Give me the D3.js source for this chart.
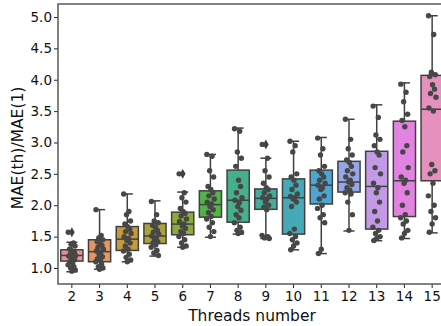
<!DOCTYPE html>
<html>
<head>
<meta charset="utf-8">
<script src="https://cdn.jsdelivr.net/npm/d3@7"></script>
<style>
  body { margin: 0; background: #fff; }
  svg { display: block; font-family: "DejaVu Sans", sans-serif; }
</style>
</head>
<body>
<div id="chart"></div>
<script>
// threads used on the x axis
const threads = [2, 3, 4, 5, 6, 7, 8, 9, 10, 11, 12, 13, 14, 15];

const boxColors = ["#e3929c", "#e39762", "#c59a3c", "#a9a33b", "#8dab3b", "#52b448", "#45b08b",
    "#44ad9f", "#45aab6", "#4ba7d2", "#97a6e8", "#c49ae6", "#e283e2", "#e690be"];

// box stats: [q1, median, q3, lower whisker, upper whisker]
const boxStats = [
    [1.11, 1.20, 1.29, 0.94, 1.41],
    [1.10, 1.26, 1.45, 0.98, 1.93],
    [1.28, 1.46, 1.66, 1.10, 2.18],
    [1.39, 1.51, 1.71, 1.19, 2.07],
    [1.53, 1.70, 1.89, 1.33, 2.21],
    [1.81, 2.01, 2.23, 1.49, 2.81],
    [1.73, 2.08, 2.56, 1.54, 3.23],
    [1.935, 2.11, 2.26, 1.47, 2.75],
    [1.54, 2.12, 2.42, 1.29, 3.02],
    [2.02, 2.32, 2.56, 1.23, 3.08],
    [2.21, 2.37, 2.70, 1.59, 3.37],
    [1.62, 2.30, 2.86, 1.435, 3.60],
    [1.82, 2.39, 3.34, 1.47, 3.95],
    [2.39, 3.53, 4.07, 1.56, 5.02]
];

// outliers beyond the whiskers
const fliers = [[1.57], [], [], [], [2.50], [], [], [2.97], [], [], [], [], [], []];

// individual runs (MAE(th)/MAE(1))
const runs = [
    [1.57, 1.40, 1.38, 1.35, 1.30, 1.27, 1.25, 1.22, 1.20, 1.19, 1.17, 1.15, 1.13, 1.10, 1.08, 1.05, 1.02, 1.00, 0.97, 0.95],
    [1.93, 1.52, 1.48, 1.45, 1.42, 1.40, 1.36, 1.33, 1.30, 1.27, 1.25, 1.22, 1.18, 1.15, 1.12, 1.10, 1.06, 1.02, 1.00, 0.98],
    [2.18, 1.90, 1.85, 1.75, 1.70, 1.66, 1.62, 1.58, 1.55, 1.50, 1.47, 1.44, 1.40, 1.35, 1.30, 1.27, 1.22, 1.17, 1.13, 1.10],
    [2.06, 1.85, 1.75, 1.72, 1.68, 1.65, 1.60, 1.57, 1.54, 1.51, 1.48, 1.45, 1.42, 1.40, 1.37, 1.33, 1.28, 1.24, 1.20],
    [2.50, 2.20, 2.12, 2.05, 1.95, 1.90, 1.87, 1.83, 1.78, 1.74, 1.70, 1.67, 1.63, 1.58, 1.55, 1.50, 1.45, 1.40, 1.35, 1.33],
    [2.81, 2.78, 2.55, 2.45, 2.30, 2.25, 2.20, 2.15, 2.10, 2.05, 2.02, 1.98, 1.93, 1.88, 1.82, 1.78, 1.72, 1.65, 1.58, 1.50],
    [3.22, 3.18, 2.85, 2.75, 2.62, 2.40, 2.30, 2.20, 2.12, 2.08, 2.04, 1.98, 1.92, 1.85, 1.80, 1.72, 1.65, 1.60, 1.57, 1.55],
    [2.97, 2.75, 2.55, 2.45, 2.35, 2.28, 2.25, 2.20, 2.15, 2.12, 2.10, 2.05, 2.00, 1.97, 1.93, 1.52, 1.50, 1.48, 1.47],
    [3.02, 2.95, 2.85, 2.50, 2.45, 2.40, 2.32, 2.25, 2.18, 2.14, 2.12, 2.10, 2.05, 1.98, 1.62, 1.55, 1.50, 1.45, 1.40, 1.35, 1.29],
    [3.07, 2.90, 2.80, 2.62, 2.55, 2.50, 2.45, 2.40, 2.35, 2.32, 2.28, 2.25, 2.15, 2.10, 2.00, 1.95, 1.85, 1.80, 1.72, 1.30, 1.23],
    [3.37, 3.05, 2.90, 2.80, 2.72, 2.68, 2.62, 2.55, 2.50, 2.45, 2.40, 2.37, 2.33, 2.28, 2.24, 2.20, 2.18, 2.05, 1.85, 1.60],
    [3.58, 3.40, 3.12, 3.05, 2.95, 2.85, 2.80, 2.60, 2.50, 2.35, 2.28, 2.20, 2.05, 1.90, 1.75, 1.65, 1.60, 1.55, 1.50, 1.47, 1.44],
    [3.93, 3.80, 3.65, 3.45, 3.35, 3.25, 2.95, 2.85, 2.60, 2.45, 2.40, 2.35, 2.20, 2.00, 1.85, 1.80, 1.75, 1.70, 1.60, 1.55, 1.48],
    [5.02, 4.72, 4.12, 4.08, 4.05, 3.92, 3.85, 3.78, 3.72, 3.55, 3.50, 2.65, 2.55, 2.50, 2.35, 2.15, 2.00, 1.90, 1.80, 1.70, 1.57]
];

const yTicks = [1.0, 1.5, 2.0, 2.5, 3.0, 3.5, 4.0, 4.5, 5.0];

const width = 441, height = 326;
const margin = { top: 4, right: -5, bottom: 42, left: 58 };
const edge = "#404040";
const dotColor = "#474747";

// fixed spread pattern for the strip points (stylistic, not data)
const spread = [-0.9, 0.4, -0.2, 0.8, -0.6, 0.1, 0.6, -0.4, 0.95, -0.8, 0.3, -0.1, 0.7, -0.5, 0.2, -0.95, 0.5, -0.3, 0.85, 0, -0.7];

const svg = d3.select("#chart")
    .append("svg")
    .attr("width", width)
    .attr("height", height)
    .attr("viewBox", [0, 0, width, height]);

const x = d3.scaleBand()
    .domain(threads)
    .range([margin.left, width - margin.right])
    .padding(0);

const y = d3.scaleLinear()
    .domain([0.745, 5.207])
    .range([height - margin.bottom, margin.top]);

const bw = x.bandwidth() * 0.8;
const capW = bw * 0.5;

// boxes
const boxes = svg.append("g")
    .selectAll("g")
    .data(threads)
    .join("g")
    .attr("transform", d => `translate(${x(d) + x.bandwidth() / 2},0)`);

boxes.each(function (t, i) {
    const g = d3.select(this);
    const [q1, med, q3, lo, hi] = boxStats[i];

    g.append("line")
        .attr("x1", 0).attr("x2", 0)
        .attr("y1", y(q3)).attr("y2", y(hi))
        .attr("stroke", edge).attr("stroke-width", 1.5);
    g.append("line")
        .attr("x1", 0).attr("x2", 0)
        .attr("y1", y(q1)).attr("y2", y(lo))
        .attr("stroke", edge).attr("stroke-width", 1.5);
    g.append("line")
        .attr("x1", -capW / 2).attr("x2", capW / 2)
        .attr("y1", y(hi)).attr("y2", y(hi))
        .attr("stroke", edge).attr("stroke-width", 1.5);
    g.append("line")
        .attr("x1", -capW / 2).attr("x2", capW / 2)
        .attr("y1", y(lo)).attr("y2", y(lo))
        .attr("stroke", edge).attr("stroke-width", 1.5);

    g.append("rect")
        .attr("x", -bw / 2)
        .attr("width", bw)
        .attr("y", y(q3))
        .attr("height", y(q1) - y(q3))
        .attr("fill", boxColors[i])
        .attr("stroke", edge)
        .attr("stroke-width", 1.5);

    g.append("line")
        .attr("x1", -bw / 2).attr("x2", bw / 2)
        .attr("y1", y(med)).attr("y2", y(med))
        .attr("stroke", edge).attr("stroke-width", 1.5);

    g.selectAll("path.flier")
        .data(fliers[i])
        .join("path")
        .attr("class", "flier")
        .attr("transform", v => `translate(0,${y(v)})`)
        .attr("d", d3.symbol(d3.symbolDiamond, 28))
        .attr("fill", edge);
});

// strip points
boxes.each(function (t, i) {
    d3.select(this).selectAll("circle")
        .data(runs[i])
        .join("circle")
        .attr("cx", (v, j) => spread[j % spread.length] * 4)
        .attr("cy", v => y(v))
        .attr("r", 2.7)
        .attr("fill", dotColor);
});

// axes
const yAxis = svg.append("g")
    .attr("transform", `translate(${margin.left},0)`)
    .style("font-family", "DejaVu Sans")
    .style("font-size", "13.5px")
    .call(d3.axisLeft(y).tickValues(yTicks).tickFormat(d3.format(".1f")).tickSize(4).tickSizeOuter(0));
yAxis.select(".domain").remove();
yAxis.selectAll(".tick line").attr("stroke", "#222");
yAxis.selectAll(".tick text").attr("fill", "#111").attr("x", -6);

const xAxis = svg.append("g")
    .attr("transform", `translate(0,${height - margin.bottom})`)
    .style("font-family", "DejaVu Sans")
    .style("font-size", "13.5px")
    .call(d3.axisBottom(x).tickSize(4).tickSizeOuter(0));
xAxis.select(".domain").remove();
xAxis.selectAll(".tick line").attr("stroke", "#222");
xAxis.selectAll(".tick text").attr("fill", "#111").attr("y", 7);

// frame
svg.append("rect")
    .attr("x", margin.left)
    .attr("y", margin.top)
    .attr("width", width - margin.right - margin.left)
    .attr("height", height - margin.bottom - margin.top)
    .attr("fill", "none")
    .attr("stroke", "#5a5a5a")
    .attr("stroke-width", 1.5);

svg.append("text")
    .attr("x", (margin.left + width - margin.right) / 2)
    .attr("y", 321)
    .attr("text-anchor", "middle")
    .style("font-size", "15.5px")
    .attr("fill", "#111")
    .text("Threads number");

svg.append("text")
    .attr("transform", `translate(23,${(margin.top + height - margin.bottom) / 2 + 4}) rotate(-90)`)
    .attr("text-anchor", "middle")
    .style("font-size", "15.5px")
    .attr("fill", "#111")
    .text("MAE(th)/MAE(1)");
</script>
</body>
</html>
